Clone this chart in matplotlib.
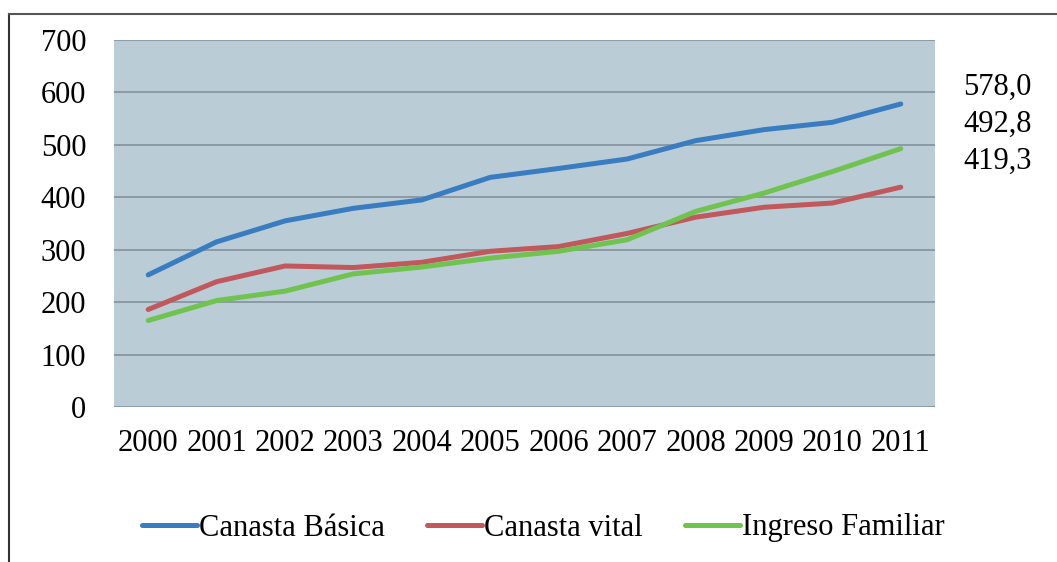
import matplotlib.pyplot as plt
from matplotlib.lines import Line2D

anios = ['2000', '2001', '2002', '2003', '2004', '2005',
         '2006', '2007', '2008', '2009', '2010', '2011']
canasta_basica = [252, 315, 355, 379, 395, 438, 455, 473, 508, 529, 543, 578.0]
canasta_vital = [186, 239, 269, 266, 276, 297, 306, 331, 362, 381, 389, 419.3]
ingreso_familiar = [165, 203, 221, 254, 267, 284, 297, 319, 373, 408, 449, 492.8]
etiquetas_finales = ['578,0', '492,8', '419,3']

plt.rcParams['font.family'] = ['Liberation Serif', 'DejaVu Serif']

fig = plt.figure(figsize=(10.57, 5.62), dpi=100)
ax = fig.add_axes([114 / 1057, 1 - 407 / 562, (935 - 114) / 1057, (407 - 40) / 562])
ax.set_facecolor('#bacdd7')

x = range(len(anios))
ax.plot(x, canasta_basica, color='#3a7cc0', lw=3.6, label='Canasta Básica', solid_capstyle='round')
ax.plot(x, canasta_vital, color='#c0585c', lw=3.6, label='Canasta vital', solid_capstyle='round')
ax.plot(x, ingreso_familiar, color='#70c34e', lw=3.6, label='Ingreso Familiar', solid_capstyle='round')

ax.set_xlim(-0.5, len(anios) - 0.5)
ax.set_ylim(0, 700)
ax.set_yticks(range(0, 701, 100))
ax.set_xticks(list(x))
ax.set_xticklabels(anios)
ax.tick_params(length=0, labelsize=22)
ax.tick_params(axis='y', pad=20)
ax.tick_params(axis='x', pad=16)
ax.grid(axis='y', color='#84929d', lw=1.2)
ax.set_axisbelow(True)
for s in ax.spines.values():
    s.set_visible(False)

# valores finales a la derecha
for i, txt in enumerate(etiquetas_finales):
    fig.text(963 / 1057, 1 - (87 + i * 37) / 562, txt, fontsize=22, va='center', ha='left')

ax.legend(loc='center', bbox_to_anchor=(0.523, (407 - 528) / 367), ncol=3, frameon=False,
          fontsize=22, handlelength=1.8, handletextpad=0.05, columnspacing=1.4)

# borde exterior
fig.add_artist(Line2D([9 / 1057, 9 / 1057], [0, 1 - 14 / 562], color='#333333', lw=1.5))
fig.add_artist(Line2D([9 / 1057, 1], [1 - 14 / 562, 1 - 14 / 562], color='#555555', lw=1.5))

fig.savefig('out.png', dpi=100)
